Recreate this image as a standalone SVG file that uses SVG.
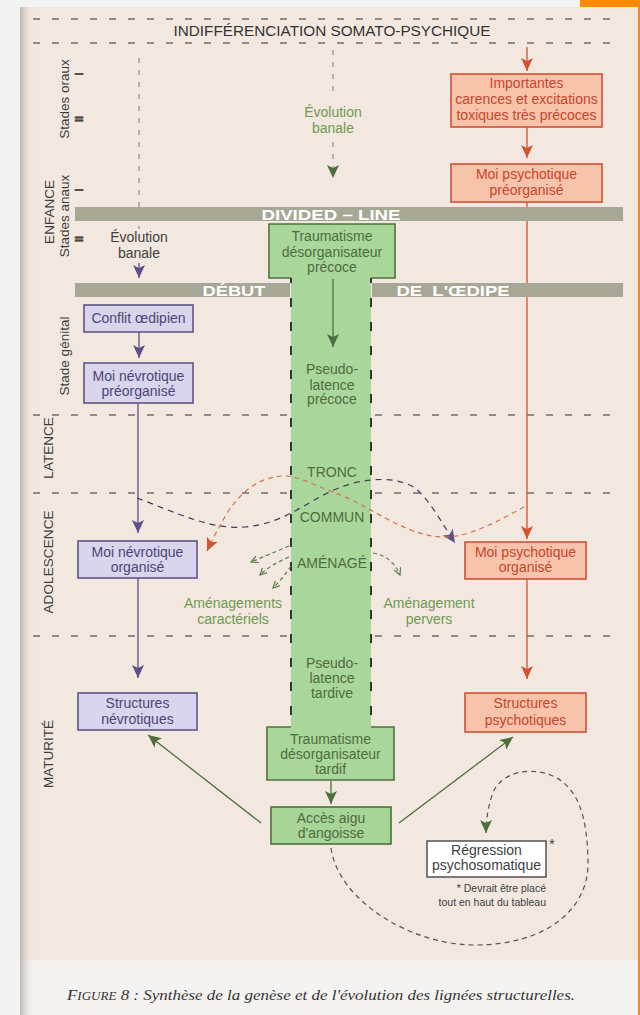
<svg xmlns="http://www.w3.org/2000/svg" width="640" height="1015" viewBox="0 0 640 1015">
<style>
.t{font-family:"Liberation Sans",Arial,sans-serif;font-size:14px;text-anchor:middle}
.red{fill:#c9452b}
.pur{fill:#4b4676}
.grn{fill:#4e6b3f}
.lgrn{fill:#6f9a52}
.gry{fill:#404040}
.bred{fill:#f7c3aa;stroke:#d0503a;stroke-width:1.6}
.bpur{fill:#d8d5ec;stroke:#5e5585;stroke-width:1.6}
.bgrn{fill:#a7d598;stroke:#4f7040;stroke-width:1.6}
.bar{fill:#a7a795}
.bt{font-family:"Liberation Sans",Arial,sans-serif;font-weight:bold;font-size:15px;fill:#ffffff;text-anchor:middle}
.hd{stroke:#6d6d6d;stroke-width:1.3;stroke-dasharray:7 12;fill:none}
.vd{stroke:#777;stroke-width:1;stroke-dasharray:5 7;fill:none}
.lab{font-family:"Liberation Sans",Arial,sans-serif;font-size:13.5px;fill:#3c3c3c;text-anchor:middle}
.num{font-family:"Liberation Sans",Arial,sans-serif;font-size:10.5px;font-weight:900;fill:#4a4a40;text-anchor:middle;stroke:#4a4a40;stroke-width:0.6}
.note{font-family:"Liberation Sans",Arial,sans-serif;font-size:10.5px;fill:#404040;text-anchor:end}
</style>
<defs>
<linearGradient id="shadow" x1="0" y1="0" x2="1" y2="0">
<stop offset="0" stop-color="#bdb9b1"/>
<stop offset="1" stop-color="#f3e8df" stop-opacity="0"/>
</linearGradient>
<marker id="aRed" markerUnits="userSpaceOnUse" markerWidth="14" markerHeight="12" refX="13" refY="6" orient="auto"><path d="M0,0 L13,6 L0,12 L3,6 z" fill="#d4532f"/></marker>
<marker id="aPur" markerUnits="userSpaceOnUse" markerWidth="14" markerHeight="12" refX="13" refY="6" orient="auto"><path d="M0,0 L13,6 L0,12 L3,6 z" fill="#5d5088"/></marker>
<marker id="aGrn" markerUnits="userSpaceOnUse" markerWidth="14" markerHeight="12" refX="13" refY="6" orient="auto"><path d="M0,0 L13,6 L0,12 L3,6 z" fill="#4d6e3d"/></marker>
<marker id="aSm" markerUnits="userSpaceOnUse" markerWidth="8" markerHeight="8" refX="7" refY="4" orient="auto"><path d="M0,0.5 L7,4 L0,7.5" fill="none" stroke="#5b7a4a" stroke-width="1.2"/></marker>
</defs>

<!-- background -->
<rect x="0" y="0" width="640" height="1015" fill="#f3f3f3"/>
<rect x="20" y="7" width="618" height="953" fill="#f3e8df"/>
<rect x="20" y="960" width="618" height="55" fill="#f5f3f1"/>
<rect x="20" y="7" width="14" height="1008" fill="url(#shadow)"/>
<rect x="580" y="0" width="60" height="7" fill="#ff8a00"/>
<rect x="638" y="0" width="2" height="1015" fill="#f08a2a"/>

<!-- period dividers -->
<g id="dividers">
<line class="hd" x1="33" y1="19" x2="612" y2="19"/>
<line class="hd" x1="33" y1="43" x2="612" y2="43"/>
<line class="hd" x1="33" y1="415" x2="612" y2="415"/>
<line class="hd" x1="33" y1="493" x2="612" y2="493"/>
<line class="hd" x1="33" y1="636" x2="612" y2="636"/>
</g>

<g id="title"><text class="t" x="332" y="36" font-size="15" fill="#333" textLength="317" lengthAdjust="spacingAndGlyphs">INDIFFÉRENCIATION SOMATO-PSYCHIQUE</text></g>

<!-- side labels -->
<g id="side-labels">
<text class="lab" font-size="14" transform="translate(69,99) rotate(-90)">Stades oraux</text>
<text class="lab" font-size="14" transform="translate(69,216) rotate(-90)">Stades anaux</text>
<text class="lab" transform="translate(54,212) rotate(-90)">ENFANCE</text>
<text class="lab" font-size="14" transform="translate(69,356) rotate(-90)">Stade génital</text>
<text class="lab" transform="translate(53,448) rotate(-90)">LATENCE</text>
<text class="lab" transform="translate(53,562) rotate(-90)" textLength="103">ADOLESCENCE</text>
<text class="lab" transform="translate(53,754) rotate(-90)">MATURITÉ</text>
<text class="num" transform="translate(83,74) rotate(-90)">I</text>
<text class="num" transform="translate(83,119) rotate(-90)">II</text>
<text class="num" transform="translate(83,190) rotate(-90)">I</text>
<text class="num" transform="translate(83,239) rotate(-90)">II</text>
</g>

<!-- connectors (under bars) -->
<g id="connectors">
<line class="vd" x1="139" y1="58" x2="139" y2="229"/>
<line x1="139" y1="263" x2="139" y2="278" stroke="#5d5088" stroke-width="1.3" marker-end="url(#aPur)"/>
<line class="vd" x1="333" y1="50" x2="333" y2="98"/>
<line class="vd" x1="333" y1="142" x2="333" y2="178" marker-end="url(#aGrn)"/>
<line x1="527" y1="47" x2="527" y2="71" stroke="#d4532f" stroke-width="1.3" marker-end="url(#aRed)"/>
<line x1="527" y1="127" x2="527" y2="158" stroke="#d4532f" stroke-width="1.3" marker-end="url(#aRed)"/>
<line x1="527" y1="202" x2="527" y2="539" stroke="#d4532f" stroke-width="1.3" marker-end="url(#aRed)"/>
<line x1="527" y1="579" x2="527" y2="679" stroke="#d4532f" stroke-width="1.3" marker-end="url(#aRed)"/>
<line x1="139" y1="332" x2="139" y2="358" stroke="#5d5088" stroke-width="1.3" marker-end="url(#aPur)"/>
<line x1="138" y1="403" x2="138" y2="533" stroke="#5d5088" stroke-width="1.3" marker-end="url(#aPur)"/>
<line x1="138" y1="578" x2="138" y2="678" stroke="#5d5088" stroke-width="1.3" marker-end="url(#aPur)"/>
</g>

<!-- gray bars -->
<g id="divided-line">
<rect class="bar" x="75" y="207" width="548" height="14"/>
<text class="bt" x="331" y="219.5" textLength="139" lengthAdjust="spacingAndGlyphs">DIVIDED – LINE</text>
</g>
<g id="debut-oedipe">
<rect class="bar" x="75" y="283" width="215" height="14"/>
<rect class="bar" x="372" y="283" width="251" height="14"/>
<text class="bt" x="234" y="295.5" textLength="63" lengthAdjust="spacingAndGlyphs">DÉBUT</text>
<text class="bt" x="453" y="295.5" textLength="113" lengthAdjust="spacingAndGlyphs" style="white-space:pre">DE  L'ŒDIPE</text>
</g>

<!-- green trunk -->
<g id="tronc-commun">
<path d="M269,224 H395 V278 H371 V727 H394 V780 H267 V727 H291 V278 H269 Z" fill="#a9d79b"/>
<path d="M291,278 H269 V224 H395 V278 H371" fill="none" stroke="#4f7040" stroke-width="1.6"/>
<path d="M291,727 H267 V780 H394 V727 H371" fill="none" stroke="#4f7040" stroke-width="1.6"/>
<line x1="291" y1="278" x2="291" y2="727" stroke="#2f3a2a" stroke-width="2" stroke-dasharray="9 15" stroke-dashoffset="-20"/>
<line x1="371" y1="278" x2="371" y2="727" stroke="#2f3a2a" stroke-width="2" stroke-dasharray="9 15" stroke-dashoffset="-20"/>
<text class="t grn" x="332" y="241">Traumatisme</text>
<text class="t grn" x="332" y="257">désorganisateur</text>
<text class="t grn" x="332" y="272">précoce</text>
<line x1="333" y1="279" x2="333" y2="347" stroke="#4d6e3d" stroke-width="1.3" marker-end="url(#aGrn)"/>
<text class="t grn" x="332" y="374">Pseudo-</text>
<text class="t grn" x="332" y="390">latence</text>
<text class="t grn" x="332" y="404">précoce</text>
<text class="t grn" x="332" y="477">TRONC</text>
<text class="t grn" x="332" y="522">COMMUN</text>
<text class="t grn" x="332" y="568">AMÉNAGÉ</text>
<text class="t grn" x="332" y="668">Pseudo-</text>
<text class="t grn" x="332" y="683">latence</text>
<text class="t grn" x="332" y="698">tardive</text>
<text class="t grn" x="330.5" y="744">Traumatisme</text>
<text class="t grn" x="330.5" y="759">désorganisateur</text>
<text class="t grn" x="330.5" y="774">tardif</text>
</g>

<!-- text labels -->
<g id="evolution-banale-top"><text class="t lgrn" x="333" y="117">Évolution</text><text class="t lgrn" x="333" y="133">banale</text></g>
<g id="evolution-banale-left"><text class="t gry" x="139" y="242">Évolution</text><text class="t gry" x="139" y="258">banale</text></g>

<!-- red nodes -->
<g id="carences">
<rect class="bred" x="451" y="74" width="151" height="53"/>
<text class="t red" x="526.5" y="88">Importantes</text>
<text class="t red" x="526.5" y="104">carences et excitations</text>
<text class="t red" x="526.5" y="120">toxiques très précoces</text>
</g>
<g id="moi-psy-preorg">
<rect class="bred" x="451" y="164" width="151" height="38"/>
<text class="t red" x="526.5" y="179">Moi psychotique</text>
<text class="t red" x="526.5" y="195">préorganisé</text>
</g>
<g id="moi-psy-org">
<rect class="bred" x="465" y="542" width="121" height="37"/>
<text class="t red" x="525.5" y="557">Moi psychotique</text>
<text class="t red" x="525.5" y="572">organisé</text>
</g>
<g id="structures-psy">
<rect class="bred" x="465" y="693" width="121" height="39"/>
<text class="t red" x="525.5" y="708">Structures</text>
<text class="t red" x="525.5" y="725">psychotiques</text>
</g>

<!-- purple nodes -->
<g id="conflit">
<rect class="bpur" x="84" y="305" width="109" height="27"/>
<text class="t pur" x="138.5" y="323">Conflit œdipien</text>
</g>
<g id="moi-nev-preorg">
<rect class="bpur" x="84" y="363" width="109" height="40"/>
<text class="t pur" x="138.5" y="381">Moi névrotique</text>
<text class="t pur" x="138.5" y="396">préorganisé</text>
</g>
<g id="moi-nev-org">
<rect class="bpur" x="78" y="541" width="119" height="37"/>
<text class="t pur" x="137.5" y="557">Moi névrotique</text>
<text class="t pur" x="137.5" y="572">organisé</text>
</g>
<g id="structures-nev">
<rect class="bpur" x="78" y="693" width="119" height="37"/>
<text class="t pur" x="137.5" y="708">Structures</text>
<text class="t pur" x="137.5" y="724">névrotiques</text>
</g>

<!-- green bottom node -->
<g id="acces">
<rect class="bgrn" x="271" y="807" width="120" height="37"/>
<text class="t grn" x="331" y="823">Accès aigu</text>
<text class="t grn" x="331" y="838">d'angoisse</text>
</g>

<g id="regression">
<rect x="427" y="841" width="119" height="36" fill="#ffffff" stroke="#3a3a3a" stroke-width="1.3"/>
<text class="t gry" x="486.5" y="855">Régression</text>
<text class="t gry" x="486.5" y="870">psychosomatique</text>
<text class="t gry" x="552" y="849" font-size="11">*</text>
</g>
<g id="note">
<text class="note" x="546" y="892">* Devrait être placé</text>
<text class="note" x="546" y="906">tout en haut du tableau</text>
</g>

<g id="amenagements">
<text class="t lgrn" x="233" y="608">Aménagements</text>
<text class="t lgrn" x="233" y="624">caractériels</text>
<text class="t lgrn" x="429" y="608">Aménagement</text>
<text class="t lgrn" x="429" y="624">pervers</text>
</g>

<!-- upper connectors -->
<g id="connectors-over">
<path d="M137,498 C175,512 210,530 245,527 C290,523 312,495 350,484 C375,477 400,478 415,488 C430,500 443,525 455,543" fill="none" stroke="#3f3d55" stroke-width="1.2" stroke-dasharray="6 5" marker-end="url(#aPur)"/>
<path d="M524,507 C500,520 470,537 445,537 C405,537 370,505 335,493 C310,483 295,475 282,476 C255,478 240,495 229,510 C220,525 213,538 207,551" fill="none" stroke="#d0764e" stroke-width="1.2" stroke-dasharray="5 4" marker-end="url(#aRed)"/>
<path d="M289,546 L251,562" fill="none" stroke="#5b7a4a" stroke-width="1.2" stroke-dasharray="4 3" marker-end="url(#aSm)"/>
<path d="M289,557 Q270,565 260,575" fill="none" stroke="#5b7a4a" stroke-width="1.2" stroke-dasharray="4 3" marker-end="url(#aSm)"/>
<path d="M291,566 Q283,578 273,588" fill="none" stroke="#5b7a4a" stroke-width="1.2" stroke-dasharray="4 3" marker-end="url(#aSm)"/>
<path d="M373,553 Q392,556 400,575" fill="none" stroke="#5b7a4a" stroke-width="1.2" stroke-dasharray="4 3" marker-end="url(#aSm)"/>
<line x1="331" y1="781" x2="331" y2="804" stroke="#4d6e3d" stroke-width="1.3" marker-end="url(#aGrn)"/>
<line x1="261" y1="823" x2="148" y2="735" stroke="#4d6e3d" stroke-width="1.3" marker-end="url(#aGrn)"/>
<line x1="399" y1="823" x2="513" y2="737" stroke="#4d6e3d" stroke-width="1.3" marker-end="url(#aGrn)"/>
<path d="M331,848 C338,900 410,945 475,945 C545,945 590,910 588,860 C587,820 580,790 555,777 C530,765 500,772 492,795 C488,808 486,820 486,833" fill="none" stroke="#555" stroke-width="1.2" stroke-dasharray="5 4" marker-end="url(#aGrn)"/>
</g>

<g id="caption">
<text x="321" y="1000" font-family="'Liberation Serif','Times New Roman',serif" font-style="italic" font-size="15" fill="#333" text-anchor="middle" textLength="508" lengthAdjust="spacingAndGlyphs">F<tspan font-size="11.5">IGURE</tspan> 8 : Synthèse de la genèse et de l'évolution des lignées structurelles.</text>
</g>
</svg>
